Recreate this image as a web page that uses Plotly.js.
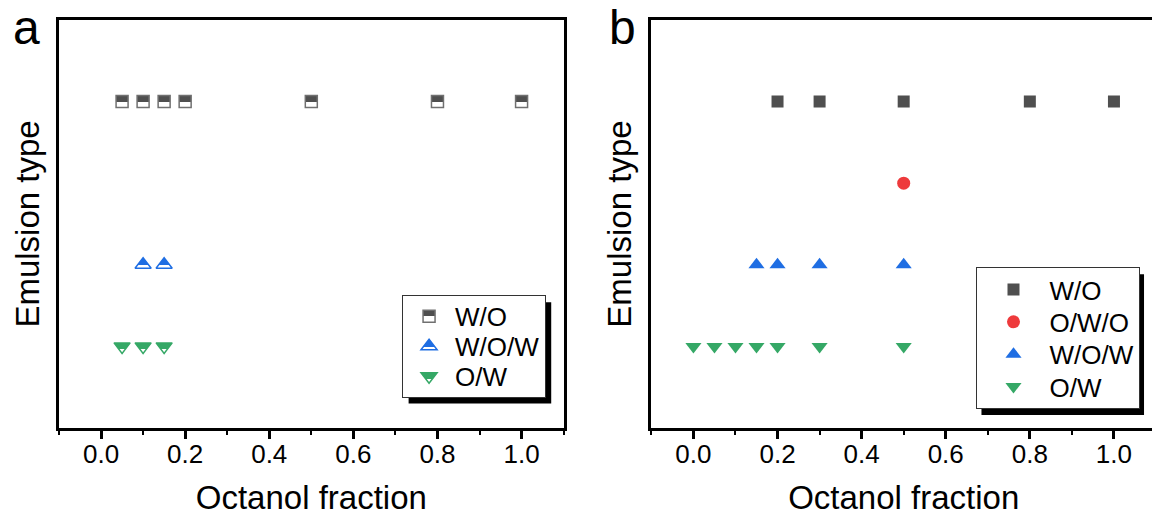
<!DOCTYPE html>
<html><head><meta charset="utf-8">
<script src="https://cdn.plot.ly/plotly-3.0.1.min.js"></script>
<style>html,body{margin:0;padding:0;overflow:hidden;background:#fff;} #chart{width:1160px;height:516px;}</style>
</head><body><div id="chart"></div>
<script>
// ---- data ----
const emulsionTypes = ['O/W', 'W/O/W', 'O/W/O', 'W/O'];
const xTickVals = [0, 0.2, 0.4, 0.6, 0.8, 1.0];
const xTickText = ['0.0', '0.2', '0.4', '0.6', '0.8', '1.0'];

// panel a
const aWO_x  = [0.05, 0.1, 0.15, 0.2, 0.5, 0.8, 1.0];
const aWO_y  = ['W/O', 'W/O', 'W/O', 'W/O', 'W/O', 'W/O', 'W/O'];
const aWOW_x = [0.1, 0.15];
const aWOW_y = ['W/O/W', 'W/O/W'];
const aOW_x  = [0.05, 0.1, 0.15];
const aOW_y  = ['O/W', 'O/W', 'O/W'];

// panel b
const bWO_x  = [0.2, 0.3, 0.5, 0.8, 1.0];
const bWO_y  = ['W/O', 'W/O', 'W/O', 'W/O', 'W/O'];
const bOWO_x = [0.5];
const bOWO_y = ['O/W/O'];
const bWOW_x = [0.15, 0.2, 0.3, 0.5];
const bWOW_y = ['W/O/W', 'W/O/W', 'W/O/W', 'W/O/W'];
const bOW_x  = [0, 0.05, 0.1, 0.15, 0.2, 0.3, 0.5];
const bOW_y  = ['O/W', 'O/W', 'O/W', 'O/W', 'O/W', 'O/W', 'O/W'];

// ---- styles ----
const C = {wo: '#4f4f4f', woEdge: '#707070', owo: '#ee3a3c', wow: '#1f6ee3', ow: '#35a866'};
const FONT = 'Liberation Sans, Arial, sans-serif';

function halfTrace(x, y, name, symbol, size, fill, edge) {
  return {x, y, name, type: 'scatter', mode: 'markers', xaxis: 'x', yaxis: 'y', legend: 'legend',
    marker: {symbol, size, color: fill, line: {color: edge, width: 1.5},
             gradient: {type: 'vertical', color: '#ffffff'}}};
}
function solidTrace(x, y, name, symbol, size, fill) {
  return {x, y, name, type: 'scatter', mode: 'markers', xaxis: 'x2', yaxis: 'y2', legend: 'legend2',
    marker: {symbol, size, color: fill, line: {width: 0}}};
}

const data = [
  halfTrace(aWO_x, aWO_y, 'W/O', 'square', 12, C.wo, C.woEdge),
  halfTrace(aWOW_x, aWOW_y, 'W/O/W', 'triangle-up', 14, C.wow, C.wow),
  halfTrace(aOW_x, aOW_y, 'O/W', 'triangle-down', 14, C.ow, C.ow),
  solidTrace(bWO_x, bWO_y, 'W/O', 'square', 12, C.wo),
  solidTrace(bOWO_x, bOWO_y, 'O/W/O', 'circle', 13, C.owo),
  solidTrace(bWOW_x, bWOW_y, 'W/O/W', 'triangle-up', 14, C.wow),
  solidTrace(bOW_x, bOW_y, 'O/W', 'triangle-down', 14, C.ow)
];

const W = 1160, H = 516, M = {l: 59, r: 1, t: 20, b: 87};
const PW = W - M.l - M.r, PH = H - M.t - M.b;

function xAxis(domain, anchor) {
  return {domain, anchor, range: [-0.1, 1.1], tickvals: xTickVals, ticktext: xTickText,
    ticks: 'outside', ticklen: 8, tickwidth: 3, tickcolor: '#000', ticklabelstandoff: -7,
    minor: {dtick: 0.1, tick0: 0, ticks: 'outside', ticklen: 4, tickwidth: 2, tickcolor: '#000', showgrid: false},
    showline: true, linewidth: 3, linecolor: '#000', mirror: true,
    showgrid: false, zeroline: false,
    tickfont: {family: FONT, size: 26, color: '#000'},
    title: {text: 'Octanol fraction', font: {family: FONT, size: 33, color: '#000'}, standoff: 23},
    automargin: true, fixedrange: true};
}
function yAxis(domain, anchor) {
  return {domain, anchor, type: 'category', categoryorder: 'array', categoryarray: emulsionTypes,
    range: [-1, 4], showticklabels: false, ticks: '',
    showline: true, linewidth: 3, linecolor: '#000', mirror: true,
    showgrid: false, zeroline: false,
    title: {text: 'Emulsion type', font: {family: FONT, size: 33, color: '#000'}, standoff: 7},
    automargin: true, fixedrange: true};
}

const legendBase = {font: {family: FONT, size: 26, color: '#000'}, bgcolor: '#ffffff',
  bordercolor: '#333333', borderwidth: 1, xanchor: 'left', yanchor: 'top', tracegroupgap: 0};

const layout = {
  width: W, height: H, margin: M, paper_bgcolor: '#fff', plot_bgcolor: '#fff',
  showlegend: true,
  xaxis: xAxis([0, 506 / PW], 'y'),
  yaxis: yAxis([0, 1], 'x'),
  xaxis2: xAxis([594 / PW, 1], 'y2'),
  yaxis2: yAxis([0, 1], 'x2'),
  legend: Object.assign({}, legendBase, {x: (403 - M.l) / PW, y: (H - M.b - 296) / PH, itemwidth: 42}),
  legend2: Object.assign({}, legendBase, {x: (979 - M.l) / PW, y: (H - M.b - 268) / PH, itemwidth: 62}),
  annotations: [
    {text: 'a', xref: 'paper', yref: 'paper', x: (26 - M.l) / PW, y: (H - M.b - 28) / PH,
     xanchor: 'center', yanchor: 'middle', showarrow: false, font: {family: FONT, size: 48, color: '#000'}},
    {text: 'b', xref: 'paper', yref: 'paper', x: (624 - M.l) / PW, y: (H - M.b - 28) / PH,
     xanchor: 'center', yanchor: 'middle', showarrow: false, font: {family: FONT, size: 48, color: '#000'}}
  ]
};

// legend row spacing (px) to match the compact original legends
const legendSpacing = {'.legend': 30, '.legend2': 32.3};

const gd = document.getElementById('chart');

// split point (fraction from bottom of marker box) where the half-fill changes to white
function splitFor(stopColor) {
  const m = (stopColor || '').match(/\d+/g) || [];
  const key = m.slice(0, 3).join(',');
  if (key === '31,110,227') return '28%';
  if (key === '53,168,102') return '42%';
  return '50%';
}
function hardenGradients() {
  gd.querySelectorAll('linearGradient').forEach(function (g) {
    const stops = g.querySelectorAll('stop');
    if (!stops.length) return;
    const off = splitFor(stops[stops.length - 1].getAttribute('stop-color'));
    stops.forEach(function (s) { s.setAttribute('offset', off); });
  });
}

function measureLegend(sel) {
  const lg = gd.querySelector('.infolayer ' + sel);
  if (!lg) return null;
  const items = Array.from(lg.querySelectorAll('g.traces'));
  const bg = lg.querySelector('rect.bg');
  const ys = items.map(function (it) { return it.getBoundingClientRect().top; });
  const s0 = items.length > 1 ? (ys[ys.length - 1] - ys[0]) / (items.length - 1) : legendSpacing[sel];
  return {n: items.length, s0: s0, rect: bg.getBoundingClientRect(), h0: +bg.getAttribute('height')};
}
function tightenLegend(sel, info) {
  const lg = gd.querySelector('.infolayer ' + sel);
  if (!lg || !info) return;
  const d = info.s0 - legendSpacing[sel];
  Array.from(lg.querySelectorAll('g.traces')).forEach(function (it, i) {
    const t = it.getAttribute('transform') || '';
    it.setAttribute('transform', 'translate(0,' + (-d / 2 - i * d) + ') ' + t);
  });
  const bg = lg.querySelector('rect.bg');
  bg.setAttribute('height', info.h0 - info.n * d);
}

let legendInfo = {};
Plotly.newPlot(gd, data, layout, {displayModeBar: false, staticPlot: true}).then(function () {
  const box = gd.getBoundingClientRect();
  const shapes = [];
  ['.legend', '.legend2'].forEach(function (sel) {
    const info = measureLegend(sel);
    if (!info) return;
    legendInfo[sel] = info;
    const r = info.rect;
    const hNew = r.height - info.n * (info.s0 - legendSpacing[sel]);
    const off = 7;
    const px = function (v) { return (v - box.left - M.l) / PW; };
    const py = function (v) { return (H - M.b - (v - box.top)) / PH; };
    shapes.push({type: 'rect', xref: 'paper', yref: 'paper', layer: 'above',
      x0: px(r.left + off), x1: px(r.right + off), y0: py(r.top + off), y1: py(r.top + hNew + off),
      fillcolor: '#000', line: {width: 0}});
  });
  return Plotly.relayout(gd, {shapes: shapes});
}).then(function () {
  ['.legend', '.legend2'].forEach(function (sel) { tightenLegend(sel, legendInfo[sel]); });
  hardenGradients();
});
gd.on && gd.on('plotly_afterplot', hardenGradients);
</script>
</body></html>
